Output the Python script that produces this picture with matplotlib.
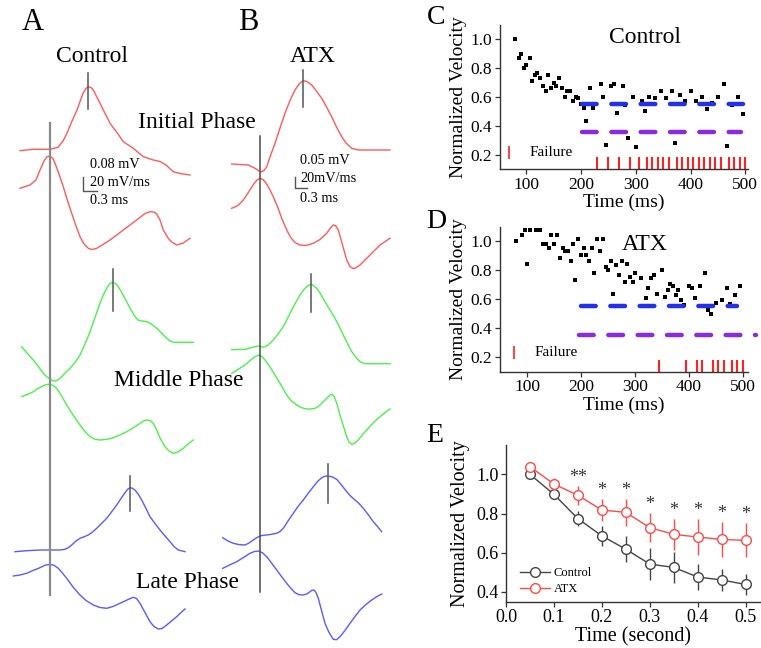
import numpy as np
import matplotlib
matplotlib.use('Agg')
import matplotlib.pyplot as plt

plt.rcParams['font.family'] = 'serif'
plt.rcParams['font.serif'] = ['Liberation Serif', 'DejaVu Serif']

# ---- A / B: example waveforms (page coordinates, px) ----
# each phase: upper trace = voltage, lower trace = dV/dt
ctrl_init_v = [(20, 150.7), (33, 149.3), (50, 149.3), (58, 147.3), (63, 141), (67, 133.3), (72, 121),
               (77, 110), (83, 93.3), (86, 88.5), (88.3, 86.7), (91, 87.5), (93.3, 90), (100, 103.3),
               (110, 123.3), (118, 134), (123.3, 141.7), (133.3, 148.3), (143.3, 156.7), (153.3, 160),
               (160, 161.5), (166, 165), (173.3, 171.7), (180, 173.5), (190, 175)]
ctrl_init_dv = [(20, 188.3), (30, 185), (36, 180), (40, 170), (44, 161), (47, 156.7), (50, 156), (53, 158.5),
                (55, 163.3), (59, 174), (63.3, 186.7), (67, 199), (71.7, 213.3), (76, 226), (80, 236.7),
                (84, 244), (88.3, 248.3), (92, 249.5), (96.7, 248.3), (103, 244.5), (110, 240), (123.3, 230),
                (136.7, 220), (145, 213.5), (150, 211.7), (154, 212), (156.7, 214), (160, 220), (163.3, 230),
                (168, 238), (171.7, 242), (176.7, 245), (183.3, 243), (190, 238.3)]
atx_init_v = [(231.7, 164), (248.3, 165), (255, 168.3), (259, 171), (261.7, 171.7), (264, 170.5),
              (266.7, 166.7), (270, 157), (275, 143.3), (280, 128), (285, 113.3), (290, 100.5), (295, 90),
              (299, 84), (303.3, 80.7), (307, 81.5), (311.7, 85), (316, 90.5), (321.7, 98.3), (326, 106),
              (331.7, 116.7), (336, 126), (341.7, 136.7), (346, 143), (351.7, 148.3), (358.3, 150), (390, 150)]
atx_init_dv = [(231.7, 208.3), (238, 205.5), (243.3, 200), (248, 193), (253, 185), (257, 180), (260, 178.3),
               (263, 179.5), (266.7, 184), (270, 190), (273.3, 196.7), (278, 208), (282, 219), (286.7, 230),
               (291, 238), (295, 242.5), (300, 245), (306, 245.5), (313.3, 243.3), (320, 239.5), (326.7, 233.3),
               (330, 228.5), (333.3, 225), (335.5, 225.5), (338.3, 230), (342, 243), (346.7, 260),
               (350, 266.5), (353, 268.5), (355, 268.3), (360, 265), (366.7, 258.3), (373, 252), (380, 245),
               (390, 238.3)]
ctrl_mid_v = [(21.7, 346.7), (27, 353), (33.3, 360), (38, 366), (43.3, 373.3), (47, 377), (50, 379), (53, 380.8),
              (55, 381), (58, 380), (61.7, 376.7), (66, 372), (70, 368.3), (75, 362.5), (80, 355), (85, 344),
              (90, 331.7), (95, 317.5), (100, 303.3), (103.5, 294.5), (106.7, 288.3), (109.5, 284),
              (112.7, 282.3), (115.5, 283.5), (118.3, 286.7), (122, 293), (126.7, 301.7), (131, 310),
              (135, 316.7), (138, 320), (141.7, 321), (145, 321.3), (148.3, 322.3), (152, 324.5), (156.7, 328.3),
              (162, 333.5), (166.7, 338.3), (170, 341), (173.3, 342.3), (193.3, 342.3)]
ctrl_mid_dv = [(21.7, 396.7), (27, 394.5), (33.3, 391.7), (38, 388.5), (43.3, 385.7), (47, 384.5), (50, 384.3),
               (53, 385.5), (56.7, 388.3), (61, 395), (66.7, 405), (73, 415), (80, 425), (85, 431.5), (90, 436.7),
               (95, 439.3), (100, 440), (106, 439.5), (113.3, 437.7), (120, 435), (126.7, 431.7), (133, 428),
               (140, 423.3), (143.5, 421), (146.7, 420), (150, 420.5), (153.3, 423.3), (156.7, 430), (160, 438),
               (165, 446.7), (169, 451), (173.3, 453.3), (178, 452), (183.3, 448.3), (188, 444), (193.3, 440)]
atx_mid_v = [(231.7, 349.7), (245, 349.3), (250, 348), (255, 346.7), (258, 346), (260, 346.4), (263, 347),
             (265, 346.7), (268, 345), (273.3, 340), (278, 334), (283.3, 326.7), (287.5, 318.5), (291.7, 310),
             (296, 302), (300, 295), (303.5, 290), (306.7, 286.7), (309, 285), (311, 284.3), (313.5, 285.5),
             (316.7, 288.3), (320, 293), (325, 301.7), (330, 310), (335, 318.3), (339, 326), (343.3, 335),
             (347.5, 343.5), (351.7, 351.7), (356, 357.5), (360, 361.7), (365, 363.7), (390, 363.7)]
atx_mid_dv = [(231.7, 373.3), (238, 369.5), (245, 365), (250, 360.5), (255, 356.7), (259.3, 355), (262, 356.5),
              (265, 360), (270, 367), (275, 375), (281, 385), (286.7, 395), (291, 400.5), (296.7, 405),
              (301, 407.5), (306.7, 409), (311, 409), (315, 408.3), (318.5, 406.3), (321.7, 403.3), (326, 399),
              (330, 395), (332.3, 394.2), (334.3, 396.7), (337, 404), (340, 415), (343.5, 426.5), (346.7, 436.7),
              (349, 442), (351.7, 444.3), (355, 443), (358.3, 440), (363, 434), (368.3, 428.3), (374, 422),
              (380, 416.7), (385, 412.5), (390, 409)]
ctrl_late_v = [(15, 551.7), (26.7, 550.7), (40, 550), (50, 550), (60, 550), (65, 549.3), (68.5, 547.5),
               (71.7, 545), (76, 541), (80, 538.3), (84, 536.8), (88.3, 535), (92.5, 532), (96.7, 528.3),
               (101.5, 523.5), (106.7, 518.3), (111.5, 512), (116.7, 505), (121, 498.5), (125, 492.7),
               (127.5, 489.5), (130, 487.7), (132.5, 488.3), (135, 490), (138.5, 494.5), (141.7, 500),
               (146, 508.5), (150, 516.7), (155, 523.5), (160, 530), (165, 536), (170, 541.7), (174, 546.5),
               (178.3, 550), (185, 551.7)]
ctrl_late_dv = [(13.3, 576), (20, 575), (26.7, 573.3), (33, 570.5), (40, 567.7), (45, 565.2), (50, 564.3),
                (54, 565.3), (58.3, 568.3), (62, 572.5), (66.7, 578.3), (73, 587), (80, 595), (86, 600.5),
                (93.3, 605), (100, 607.5), (106.7, 608.3), (113, 606.5), (120, 603.3), (127, 600), (133.3, 597.3),
                (136.5, 598.5), (140, 603.3), (145, 612.5), (150, 621.7), (154, 626.5), (158.3, 629),
                (162, 628.5), (166.7, 625), (171.5, 621), (176.7, 616.7), (181, 612.5), (185, 609)]
atx_late_v = [(222.7, 537.7), (228, 541), (233.3, 543.3), (239, 544.6), (245, 545), (249, 543), (253.3, 540),
              (256.5, 537.8), (260, 536), (263, 535.3), (266.7, 535), (271.5, 534.3), (276.7, 533.3),
              (280, 531.5), (283.3, 528.3), (288, 521), (293.3, 513.3), (298, 506.5), (303.3, 500),
              (308, 493.5), (313.3, 486.7), (317.5, 481.5), (321.7, 477.7), (325, 476.2), (328.3, 476),
              (332.5, 477), (336.7, 479.3), (341.5, 485), (346.7, 491.7), (351, 496.5), (355, 500),
              (359, 503.5), (363.3, 508.3), (368.5, 515), (373.3, 521.7), (377.5, 526.5), (381.7, 531.7)]
atx_late_dv = [(222.7, 568.3), (229.5, 565), (236.7, 561.7), (243.5, 557.5), (250, 553.3), (254.5, 551.5),
               (258.3, 551), (262.5, 552.8), (266.7, 556.7), (271.5, 563), (276.7, 570), (281.5, 576.5),
               (286.7, 583.3), (291, 588.5), (295, 592.7), (299, 594.7), (303.3, 595), (307, 593.8),
               (310, 591.7), (312, 590.2), (314, 590), (316, 592.5), (318.3, 598.3), (321.5, 610.5),
               (325, 623.3), (329, 632.5), (333.3, 639.3), (336.5, 639.7), (340, 636.7), (345, 630.5),
               (350, 623.3), (355, 616.5), (360, 610), (366, 604.5), (371.7, 600), (376.5, 596.8), (381.7, 594)]

# peak markers (x, y_top, y_bottom) and onset lines
peak_marks = [(88.3, 73, 109), (303.3, 70, 107), (112.7, 269, 311), (310.7, 274.3, 311.7),
              (130, 476, 511), (328.3, 464, 503.3)]
onset_lines = [(50, 123, 595, '#8a8a8a', 1.6), (259.5, 136, 592, '#4a4a4a', 1.1)]

# ---- C / D: single-fibre normalized velocity ----
c_time = [80, 86, 91, 96, 100, 106, 110, 116, 120, 125, 130, 136, 140, 145, 150, 155, 160, 165, 170, 175,
          180, 185, 190, 195, 200, 205, 210, 216, 221, 236, 240, 246, 255, 261, 266, 276, 280, 286, 295, 301,
          311, 316, 325, 335, 346, 356, 366, 371, 381, 390, 401, 410, 421, 430, 440, 450, 461, 466, 476, 486,
          496]
c_vel = [1.0, 0.871, 0.901, 0.798, 0.821, 0.874, 0.710, 0.752, 0.770, 0.729, 0.676, 0.644, 0.752, 0.664,
         0.694, 0.674, 0.729, 0.660, 0.602, 0.644, 0.641, 0.575, 0.598, 0.591, 0.552, 0.526, 0.434, 0.660,
         0.526, 0.690, 0.602, 0.267, 0.674, 0.692, 0.490, 0.674, 0.545, 0.315, 0.602, 0.255, 0.572, 0.501,
         0.600, 0.591, 0.644, 0.591, 0.644, 0.283, 0.614, 0.575, 0.644, 0.575, 0.602, 0.520, 0.561, 0.600,
         0.692, 0.260, 0.543, 0.600, 0.483]
c_fail = [230, 250, 270, 290, 305, 320, 330, 340, 350, 360, 375, 385, 395, 405, 415, 425, 435, 445, 455,
          470, 480, 490, 500]

d_time = [80, 91, 96, 100, 106, 116, 124, 130, 135, 140, 145, 150, 155, 161, 166, 171, 176, 181, 185, 190,
          195, 200, 205, 210, 215, 221, 225, 230, 236, 241, 246, 251, 255, 260, 265, 270, 276, 281, 286, 291,
          296, 301, 311, 320, 325, 331, 336, 341, 351, 356, 361, 366, 371, 376, 381, 386, 391, 401, 406, 411,
          421, 431, 436, 441, 451, 461, 471, 476, 486, 496]
d_vel = [1.0, 1.044, 1.076, 0.842, 1.076, 1.076, 1.08, 0.984, 0.984, 0.956, 1.044, 0.984, 1.044, 0.883,
         0.956, 0.929, 0.929, 0.862, 0.984, 0.734, 1.014, 0.906, 0.956, 0.906, 0.862, 0.956, 0.782, 1.014,
         0.931, 1.014, 0.821, 0.800, 0.865, 0.638, 0.839, 0.766, 0.865, 0.718, 0.842, 0.750, 0.718, 0.782,
         0.748, 0.606, 0.677, 0.748, 0.766, 0.638, 0.803, 0.617, 0.665, 0.704, 0.690, 0.628, 0.665, 0.596,
         0.557, 0.693, 0.677, 0.606, 0.690, 0.782, 0.525, 0.498, 0.576, 0.594, 0.677, 0.567, 0.626, 0.690]
d_fail = [345, 395, 415, 425, 445, 455, 465, 480, 490, 500]

# reference levels (value, start ms, end ms)
c_blue = (0.55, 202, 495)
c_purple = (0.36, 201, 493)
d_blue = (0.55, 200, 490)
d_purple = (0.35, 197, 524)

# ---- E: mean normalized velocity ----
e_time = [0.05, 0.10, 0.15, 0.20, 0.25, 0.30, 0.35, 0.40, 0.45, 0.50]
e_ctrl = [1.0, 0.898, 0.774, 0.686, 0.618, 0.542, 0.525, 0.476, 0.461, 0.438]
e_ctrl_err = [0.0, 0.01, 0.04, 0.05, 0.065, 0.08, 0.078, 0.066, 0.058, 0.055]
e_atx = [1.039, 0.951, 0.893, 0.818, 0.806, 0.728, 0.694, 0.680, 0.668, 0.663]
e_atx_err = [0.01, 0.03, 0.047, 0.055, 0.068, 0.075, 0.08, 0.09, 0.09, 0.087]
e_stars = ['', '', '**', '*', '*', '*', '*', '*', '*', '*']

RED = '#ff5a5a'
GREEN = '#4cf04c'
BLUE = '#5a5aff'

W, H = 761, 648
fig = plt.figure(figsize=(W / 100, H / 100), dpi=100)

# page-level axes for the traces and labels
page = fig.add_axes([0, 0, 1, 1])
page.set_xlim(0, W)
page.set_ylim(H, 0)
page.axis('off')

traces = [(ctrl_init_v, RED), (ctrl_init_dv, RED), (atx_init_v, RED), (atx_init_dv, RED),
          (ctrl_mid_v, GREEN), (ctrl_mid_dv, GREEN), (atx_mid_v, GREEN), (atx_mid_dv, GREEN),
          (ctrl_late_v, BLUE), (ctrl_late_dv, BLUE), (atx_late_v, BLUE), (atx_late_dv, BLUE)]
for pts, col in traces:
    xs, ys = zip(*pts)
    page.plot(xs, ys, color=col, lw=1.0, solid_joinstyle='round')

for x, y0, y1, col, lw in onset_lines:
    page.plot([x, x], [y0, y1], color=col, lw=lw)
for x, y0, y1 in peak_marks:
    page.plot([x, x], [y0, y1], color='#555555', lw=1.1)

# scale bars
page.plot([83.3, 83.3, 96.7], [176.7, 190.7, 190.7], color='#555555', lw=1)
page.plot([295, 295, 306.7], [176.7, 188.3, 188.3], color='#555555', lw=1)
sb = dict(fontsize=10.3, ha='left', va='center')
page.text(90.5, 165, '0.08 mV', **sb)
page.text(90.5, 183, '20 mV/ms', **sb)
page.text(90.5, 200, '0.3 ms', **sb)
page.text(300, 161, '0.05 mV', **sb)
page.text(300, 179, '20mV/ms', **sb)
page.text(300, 198.5, '0.3 ms', **sb)

page.text(33, 23, 'A', fontsize=22, ha='center', va='center')
page.text(248, 23, 'B', fontsize=22, ha='center', va='center')
page.text(436, 18, 'C', fontsize=20, ha='center', va='center')
page.text(436, 222, 'D', fontsize=20, ha='center', va='center')
page.text(435, 436, 'E', fontsize=20, ha='center', va='center')
page.text(92, 57, 'Control', fontsize=17, ha='center', va='center')
page.text(313, 57, 'ATX', fontsize=17, ha='center', va='center')
page.text(197, 123, 'Initial Phase', fontsize=17, ha='center', va='center')
page.text(179, 380, 'Middle Phase', fontsize=17, ha='center', va='center')
page.text(187, 582, 'Late Phase', fontsize=17, ha='center', va='center')


def style_axes(ax, tick_size):
    for s in ('top', 'right'):
        ax.spines[s].set_visible(False)
    for s in ('left', 'bottom'):
        ax.spines[s].set_color('#333333')
        ax.spines[s].set_linewidth(1.0)
    ax.tick_params(labelsize=tick_size, length=3.5, width=0.9, color='#333333', pad=2)
    ax.patch.set_alpha(0)


def velocity_panel(rect, t, v, fail, blue, purple, title, title_xy, fail_xy, xlim):
    ax = fig.add_axes(rect)
    ax.plot(t, v, 's', color='black', ms=2.8, mew=0)
    for (lvl, x0, x1), col in ((blue, '#2230ee'), (purple, '#8a2be2')):
        ax.plot([x0, x1], [lvl, lvl], color=col, lw=3.2, linestyle=(0, (3.3, 3.3)),
                dash_capstyle='round', clip_on=False)
    ax.vlines(fail, 0.1, 0.18, color='#ff2020', lw=1.5)
    fx, fy = fail_xy
    ax.vlines([fx], fy - 0.045, fy + 0.045, color='#ff2020', lw=1.2)
    ax.text(fx + 38, fy, 'Failure', fontsize=11, va='center', ha='left')
    ax.text(title_xy[0], title_xy[1], title, fontsize=17, ha='center', va='center')
    ax.set_xlim(*xlim)
    ax.set_ylim(0.1, 1.1)
    ax.set_xticks([100, 200, 300, 400, 500])
    ax.set_yticks([0.2, 0.4, 0.6, 0.8, 1.0])
    ax.set_xlabel('Time (ms)', fontsize=14, labelpad=1)
    ax.set_ylabel('Normalized Velocity', fontsize=14, labelpad=3)
    style_axes(ax, 12.5)
    return ax


velocity_panel([500 / W, 1 - 169 / H, 248 / W, 144 / H], c_time, c_vel, c_fail, c_blue, c_purple,
               'Control', (317, 1.01), (68, 0.215), (52, 505))
velocity_panel([500 / W, 1 - 371.7 / H, 248 / W, 145 / H], d_time, d_vel, d_fail, d_blue, d_purple,
               'ATX', (318, 0.98), (76, 0.235), (50, 510))

# E: group means with SEM
ax = fig.add_axes([506 / W, 1 - 601.7 / H, 254 / W, 156.7 / H])
ax.errorbar(e_time, e_ctrl, yerr=e_ctrl_err, fmt='none', ecolor='#444444', elinewidth=1, capsize=0)
ax.errorbar(e_time, e_atx, yerr=e_atx_err, fmt='none', ecolor='#ff4a4a', elinewidth=1, capsize=0)
ax.plot(e_time, e_ctrl, '-o', color='#444444', lw=1, ms=7, mfc='white', mew=1, label='Control')
ax.plot(e_time, e_atx, '-o', color='#ff4a4a', lw=1, ms=7, mfc='white', mew=1, label='ATX')
for x, m, e, s in zip(e_time, e_atx, e_atx_err, e_stars):
    if s:
        ax.annotate(s, (x, m + e), xytext=(0, 0), textcoords='offset points',
                    ha='center', va='bottom', fontsize=13, color='#333333')
ax.set_xlim(0, 0.53)
ax.set_ylim(0.35, 1.15)
ax.set_xticks([0.0, 0.1, 0.2, 0.3, 0.4, 0.5])
ax.set_yticks([0.4, 0.6, 0.8, 1.0])
ax.set_xlabel('Time (second)', fontsize=14.5, labelpad=1)
ax.set_ylabel('Normalized Velocity', fontsize=14.5, labelpad=4)
style_axes(ax, 13)
ax.legend(loc='lower left', frameon=False, fontsize=9, handlelength=2.4, handletextpad=0.3,
          labelspacing=0.35, borderaxespad=0.1, bbox_to_anchor=(0.03, 0.0))

fig.savefig('out.png', dpi=100)
